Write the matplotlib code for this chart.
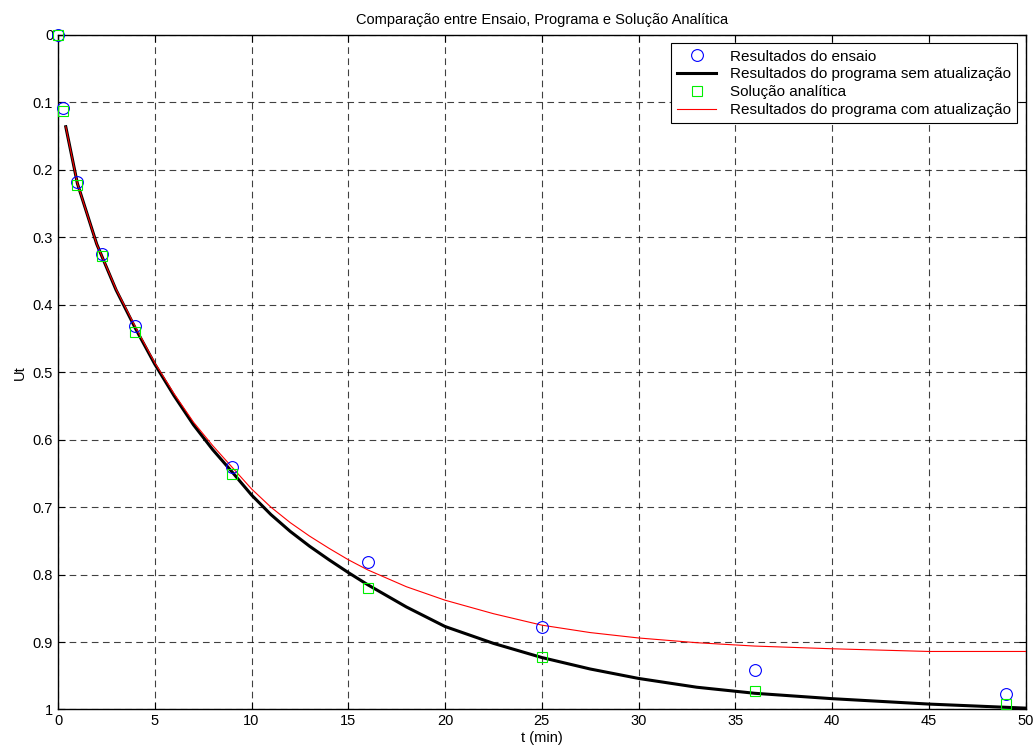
import matplotlib
matplotlib.use("Agg")
import matplotlib.pyplot as plt
from matplotlib.ticker import FormatStrFormatter

plt.rcParams['font.family'] = ['Liberation Sans', 'DejaVu Sans']

# ensaio (circulos) e solucao analitica (quadrados)
t_pts = [0, 0.25, 1, 2.25, 4, 9, 16, 25, 36, 49]
u_ensaio = [0, 0.108, 0.218, 0.325, 0.431, 0.640, 0.782, 0.878, 0.942, 0.977]
u_analit = [0, 0.112, 0.222, 0.328, 0.440, 0.651, 0.820, 0.922, 0.972, 0.992]

# programa sem atualizacao
t_sem = [0.4, 1, 2, 3, 4, 5, 6, 7, 8, 9, 10, 11, 12, 13, 14, 15, 16, 18, 20,
         22.5, 25, 27.5, 30, 33, 36, 40, 45, 50]
u_sem = [0.136, 0.22, 0.31, 0.378, 0.435, 0.488, 0.535, 0.578, 0.615, 0.648,
         0.682, 0.711, 0.736, 0.758, 0.778, 0.797, 0.815, 0.848, 0.877, 0.902,
         0.923, 0.940, 0.954, 0.967, 0.976, 0.984, 0.992, 0.998]

# programa com atualizacao
t_com = [0.4, 1, 2, 3, 4, 5, 6, 7, 8, 9, 10, 11, 12, 13, 14, 15, 16, 18, 20,
         22.5, 25, 27.5, 30, 33, 36, 40, 45, 50]
u_com = [0.136, 0.22, 0.31, 0.377, 0.433, 0.486, 0.532, 0.574, 0.609, 0.641,
         0.673, 0.700, 0.723, 0.743, 0.761, 0.778, 0.793, 0.818, 0.838, 0.858,
         0.875, 0.886, 0.894, 0.901, 0.906, 0.910, 0.914, 0.914]

fig = plt.figure(figsize=(10.36, 7.51), dpi=100)
ax = fig.add_axes([0.056, 0.0553, 0.934, 0.8981])

ax.plot(t_pts, u_ensaio, 'o', mfc='none', mec='blue', ms=8.5, mew=0.8,
        clip_on=False, label='Resultados do ensaio', zorder=4)
ax.plot(t_sem, u_sem, '-', color='black', lw=2.2,
        label='Resultados do programa sem atualização', zorder=3)
ax.plot(t_pts, u_analit, 's', mfc='none', mec='#00ee00', ms=7.5, mew=0.8,
        clip_on=False, label='Solução analítica', zorder=4)
ax.plot(t_com, u_com, '-', color='red', lw=0.8,
        label='Resultados do programa com atualização', zorder=3)

ax.set_xlim(0, 50)
ax.set_ylim(1, 0)
ax.set_xticks(range(0, 51, 5))
ax.set_yticks([i / 10 for i in range(11)])
ax.yaxis.set_major_formatter(FormatStrFormatter('%g'))
ax.tick_params(direction='in', top=True, right=True, labelsize=10.5,
               length=5, width=0.8)
ax.grid(True, color='black', linestyle=(0, (6, 4)), lw=0.8, alpha=0.75)
for s in ax.spines.values():
    s.set_linewidth(1.0)

ax.set_title('Comparação entre Ensaio, Programa e Solução Analítica',
             fontsize=10.5, pad=8)
ax.set_xlabel('t (min)', fontsize=10.5, labelpad=2)
ax.set_ylabel('Ut', fontsize=10.5, labelpad=4)

leg = ax.legend(loc='upper right', fontsize=11, fancybox=False,
                framealpha=1, edgecolor='black', borderpad=0.4,
                labelspacing=0.25, handlelength=2.6, handletextpad=0.9,
                borderaxespad=0.55)
leg.get_frame().set_linewidth(0.8)

fig.savefig('out.png', dpi=100)
